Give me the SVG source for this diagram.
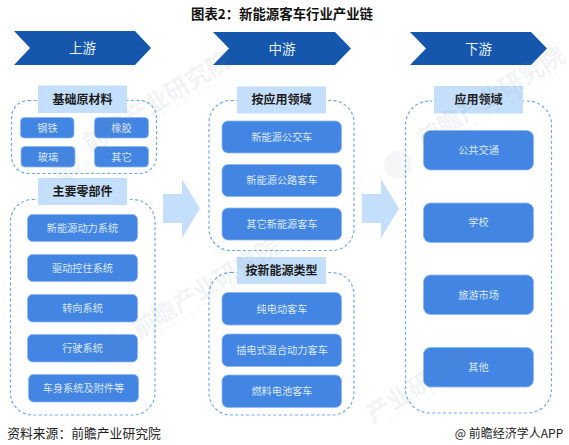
<svg xmlns="http://www.w3.org/2000/svg" width="569" height="445" viewBox="0 0 569 445">
<style>
text{font-family:"Noto Sans CJK SC","Liberation Sans",sans-serif;text-anchor:middle}
.chev{fill:#1557ad}
.chevt{fill:#e8f1fb;font-size:13.5px}
.panel{fill:none;stroke:#6fa8f2;stroke-width:1.2;stroke-dasharray:3 2.4}
.hdr{fill:#c4dffb}
.hdrt{fill:#1c1c1c;font-size:12px;font-weight:700}
.box{fill:#4285e3;stroke:#8db8f2;stroke-width:.8}
.boxt{fill:#dbe8f8;font-size:10.2px}
.arrow{fill:#c4dffb}
.wm{fill:#7d8896;fill-opacity:.11;font-weight:700;font-size:24px}
.wm2{fill:#7d8896;fill-opacity:.09;font-size:6.500px;letter-spacing:2px}
.logo{fill:#7d8896;fill-opacity:.08}
.src{fill:#222;font-size:12.800px}
</style>
<rect width="569" height="445" fill="#fff"/>
<text x="282" y="19" style="font-size:13.400px;font-weight:700;fill:#111">图表2：新能源客车行业产业链</text>
<g id="connectors">
<polygon class="arrow" points="163,194 182,194 182,179 200,208.5 182,238 182,223 163,223"/>
<polygon class="arrow" points="362,194 381,194 381,179 399,208.5 381,238 381,223 362,223"/>
</g>
<g id="stage-upstream"><polygon class="chev" points="14,31 135,31 151,48 135,65 14,65 30,48"/><text class="chevt" x="82.500" y="53">上游</text></g>
<g id="stage-midstream"><polygon class="chev" points="213,32 335,32 351,48.500 335,65 213,65 229,48.500"/><text class="chevt" x="282" y="53.500">中游</text></g>
<g id="stage-downstream"><polygon class="chev" points="410,32 531,32 547,48.500 531,65 410,65 426,48.500"/><text class="chevt" x="478.500" y="53.500">下游</text></g>

<g id="group-raw"><rect class="panel" x="11.500" y="100.500" width="145" height="73" rx="17"/><rect class="hdr" x="38" y="85.500" width="89" height="27.500"/><text class="hdrt" x="82.500" y="103.500">基础原材料</text>
<g id="n-gangtie"><rect class="box" x="20.500" y="117.500" width="53.500" height="20.500" rx="4"/><text class="boxt" x="47.500" y="131.500">钢铁</text></g>
<g id="n-xiangjiao"><rect class="box" x="94.500" y="117.500" width="54" height="20.500" rx="4"/><text class="boxt" x="121.500" y="131.500">橡胶</text></g>
<g id="n-boli"><rect class="box" x="21" y="146.500" width="54" height="20.500" rx="4"/><text class="boxt" x="48" y="160.500">玻璃</text></g>
<g id="n-qita"><rect class="box" x="94.500" y="146.500" width="54" height="20.500" rx="4"/><text class="boxt" x="121.500" y="160.500">其它</text></g></g>

<g id="group-parts"><rect class="panel" x="10.500" y="199.500" width="144.500" height="215.500" rx="22"/><rect class="hdr" x="38" y="178" width="89" height="27"/><text class="hdrt" x="82.500" y="195.500">主要零部件</text>
<g id="n-p1"><rect class="box" x="27.500" y="214.500" width="110" height="27" rx="5"/><text class="boxt" x="82.500" y="232">新能源动力系统</text></g>
<g id="n-p2"><rect class="box" x="27.500" y="254.500" width="110" height="27" rx="5"/><text class="boxt" x="82.500" y="272">驱动控住系统</text></g>
<g id="n-p3"><rect class="box" x="27.500" y="294.500" width="110" height="27.500" rx="5"/><text class="boxt" x="82.500" y="312">转向系统</text></g>
<g id="n-p4"><rect class="box" x="27.500" y="334.500" width="110" height="27.500" rx="5"/><text class="boxt" x="82.500" y="352">行驶系统</text></g>
<g id="n-p5"><rect class="box" x="28.500" y="374.500" width="110" height="27.500" rx="5"/><text class="boxt" x="83.500" y="392">车身系统及附件等</text></g></g>

<g id="group-app"><rect class="panel" x="209" y="100.500" width="145" height="150" rx="22"/><rect class="hdr" x="237" y="86.500" width="89" height="27"/><text class="hdrt" x="281.500" y="104">按应用领域</text>
<g id="n-m1"><rect class="box" x="222" y="121" width="119.500" height="32" rx="6"/><text class="boxt" x="282" y="140.500">新能源公交车</text></g>
<g id="n-m2"><rect class="box" x="222" y="164.500" width="119.500" height="32" rx="6"/><text class="boxt" x="282" y="184">新能源公路客车</text></g>
<g id="n-m3"><rect class="box" x="222" y="208" width="119.500" height="32" rx="6"/><text class="boxt" x="282" y="227.500">其它新能源客车</text></g></g>

<g id="group-energy"><rect class="panel" x="209" y="272.500" width="145" height="142.500" rx="22"/><rect class="hdr" x="237" y="257" width="89" height="27"/><text class="hdrt" x="281.500" y="274.500">按新能源类型</text>
<g id="n-e1"><rect class="box" x="222" y="292.500" width="119.500" height="32.500" rx="6"/><text class="boxt" x="282" y="312.500">纯电动客车</text></g>
<g id="n-e2"><rect class="box" x="222" y="334" width="119.500" height="32.500" rx="6"/><text class="boxt" x="282" y="354">插电式混合动力客车</text></g>
<g id="n-e3"><rect class="box" x="222" y="375" width="119.500" height="32.500" rx="6"/><text class="boxt" x="282" y="395">燃料电池客车</text></g></g>

<g id="group-down"><rect class="panel" x="405.500" y="101" width="146" height="312" rx="24"/><rect class="hdr" x="434" y="86" width="89" height="27.500"/><text class="hdrt" x="478.500" y="104">应用领域</text>
<g id="n-d1"><rect class="box" x="423.500" y="130.500" width="110" height="39.500" rx="7"/><text class="boxt" x="478.500" y="154">公共交通</text></g>
<g id="n-d2"><rect class="box" x="423.500" y="203" width="110" height="39.500" rx="7"/><text class="boxt" x="478.500" y="226">学校</text></g>
<g id="n-d3"><rect class="box" x="423.500" y="275" width="110" height="39.500" rx="7"/><text class="boxt" x="478.500" y="298.500">旅游市场</text></g>
<g id="n-d4"><rect class="box" x="423.500" y="347.500" width="110" height="39.500" rx="7"/><text class="boxt" x="478.500" y="370.500">其他</text></g></g>

<g id="watermarks">
<text class="wm" transform="translate(161 109) rotate(-31.500)">前瞻产业研究院</text>
<text class="wm2" transform="translate(170 114) rotate(-31.500)">中国产业咨询领导者（股票：839599）</text>
<circle class="logo" cx="66" cy="166" r="14"/>
<text class="wm" transform="translate(210 295) rotate(-31.500)">前瞻产业研究院</text>
<text class="wm2" transform="translate(218 300) rotate(-31.500)">中国产业咨询领导者（股票：839599）</text>
<circle class="logo" cx="112" cy="347" r="14"/>
<text class="wm" transform="translate(495 104) rotate(-31.500)">前瞻产业研究院</text>
<text class="wm2" transform="translate(503 110) rotate(-31.500)">中国产业咨询领导者（股票：839599）</text>
<circle class="logo" cx="398" cy="165" r="14"/>
<text class="wm" transform="translate(424 392) rotate(-31.500)">产业研究院</text>
<text class="wm2" transform="translate(440 392) rotate(-31.500)">咨询领导者（股票：839599）</text>
</g>
<text class="src" x="84" y="438">资料来源：前瞻产业研究院</text>
<text class="src" x="509" y="438" style="font-size:12px">@ 前瞻经济学人APP</text>
</svg>
